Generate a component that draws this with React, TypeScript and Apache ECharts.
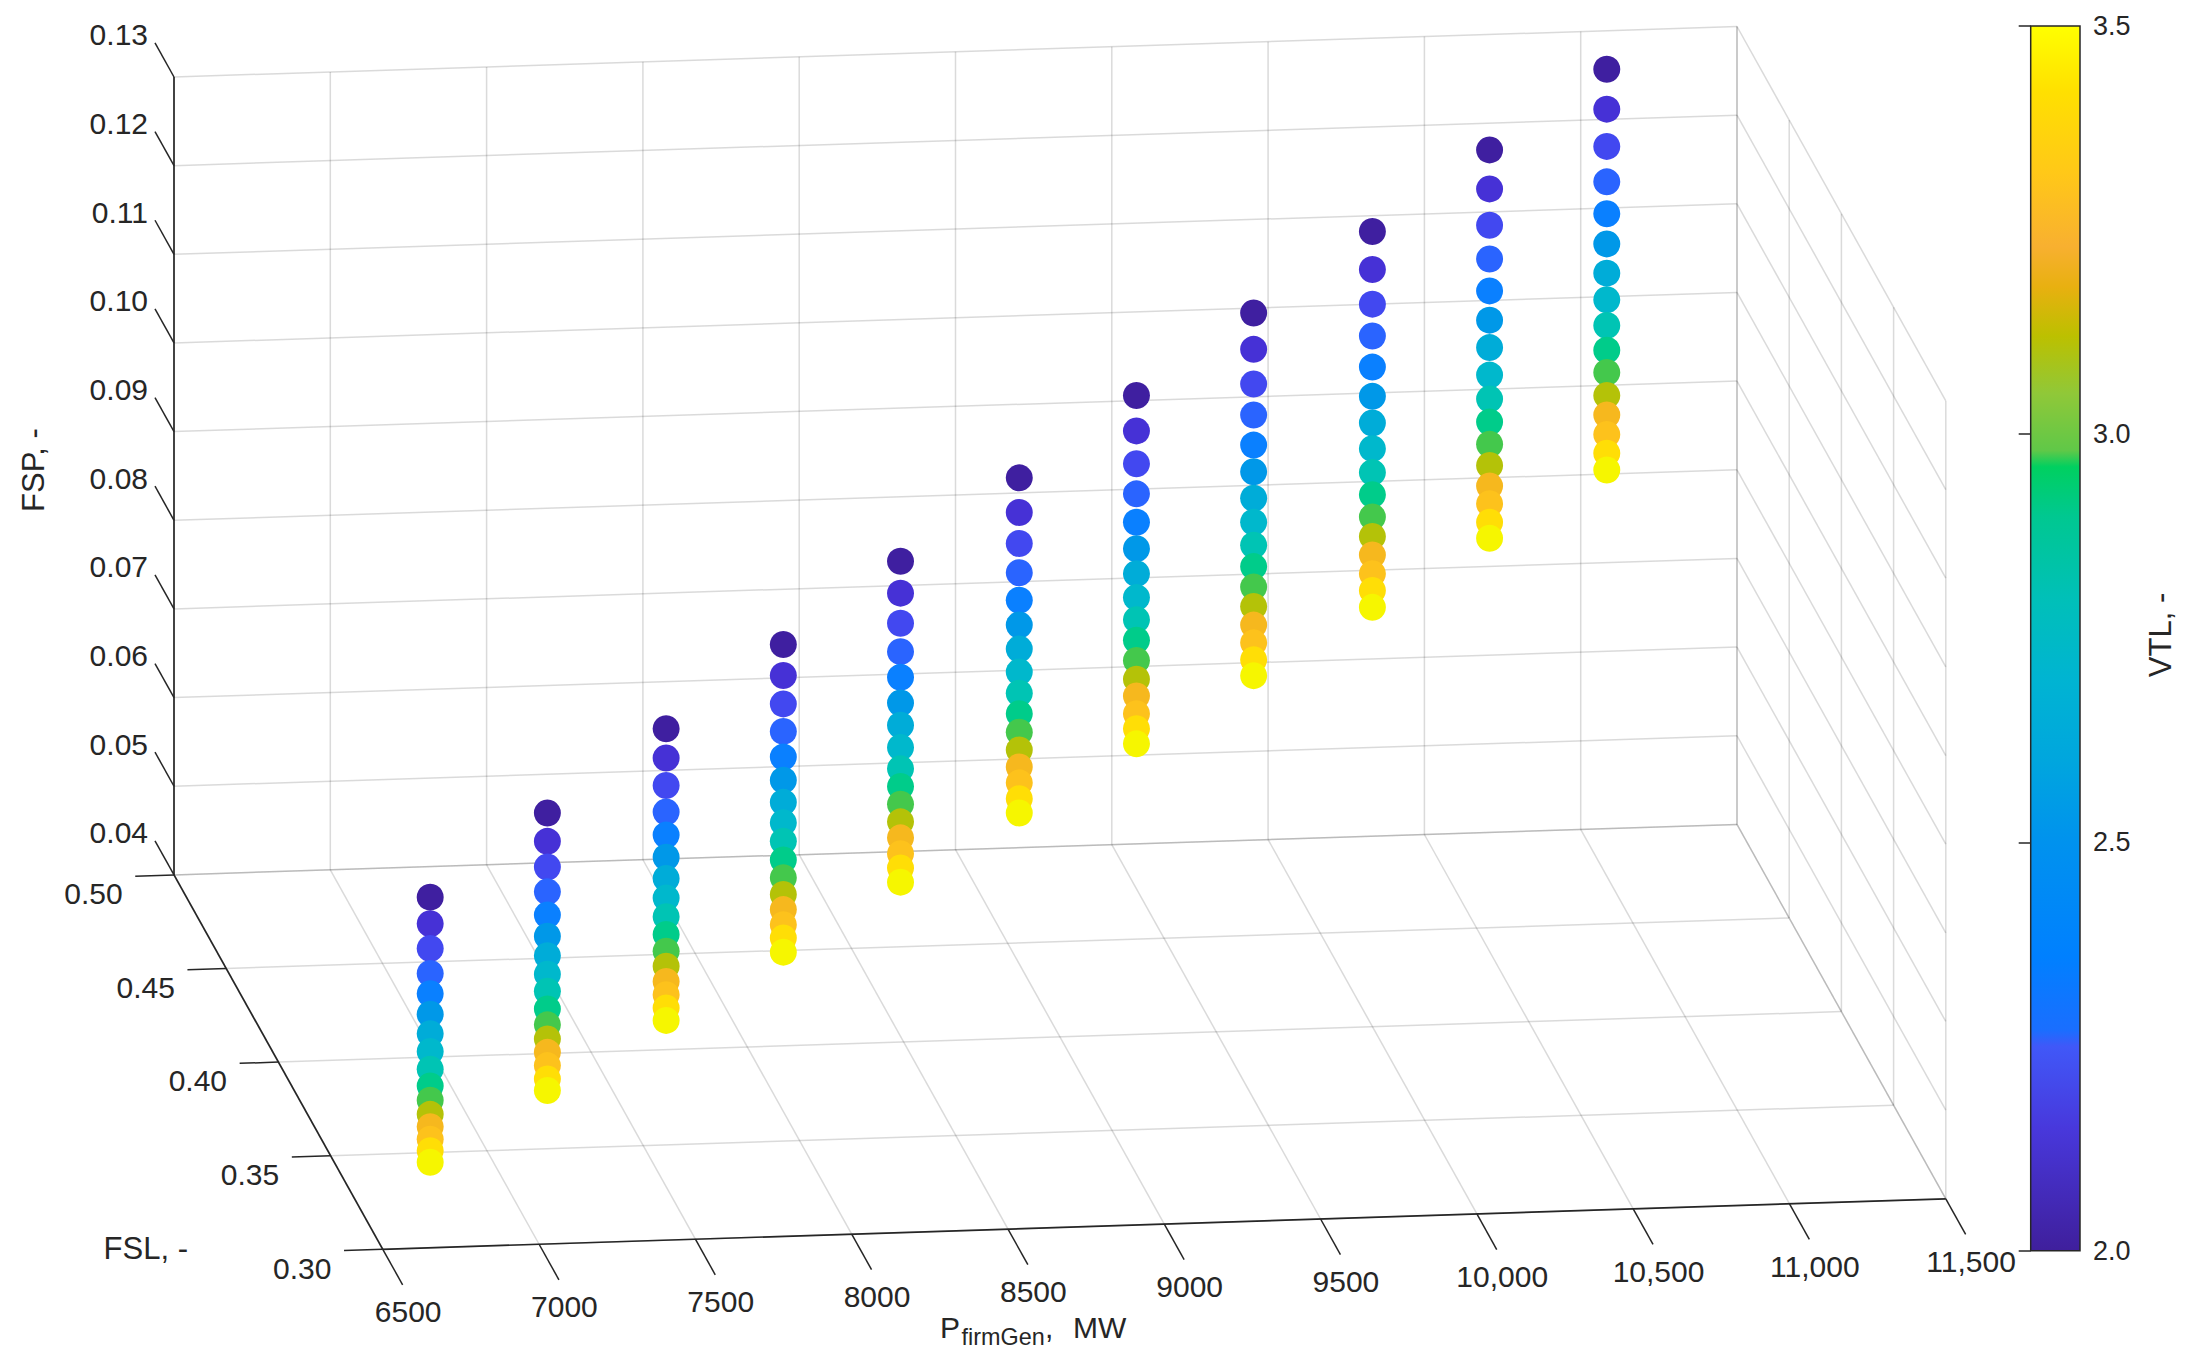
import React, { useEffect, useRef } from "react";
import * as echarts from "echarts";

// ---------------- data ----------------
const P_FIRM_GEN = [6685, 7120, 7560, 7995, 8430, 8870, 9305, 9740, 10180, 10615, 11050];
const FSL_VALUES = [0.31, 0.328, 0.346, 0.364, 0.382, 0.4, 0.418, 0.436, 0.454, 0.472, 0.49];
const VTL_VALUES = [2.0, 2.1, 2.2, 2.3, 2.4, 2.5, 2.6, 2.7, 2.8, 2.9, 3.0, 3.1, 3.2, 3.3, 3.4, 3.5];

const FSP_C1 = [0.0774, 0.0744, 0.0716, 0.0688, 0.0665, 0.0642, 0.062, 0.06, 0.058, 0.0561, 0.0545, 0.0529, 0.0515, 0.0501, 0.0488, 0.0475];
const FSP_C2 = [0.0826, 0.0794, 0.0765, 0.0737, 0.0711, 0.0687, 0.0665, 0.0644, 0.0625, 0.0605, 0.0587, 0.0571, 0.0556, 0.0541, 0.0526, 0.0513];
const FSP_C3 = [0.0878, 0.0845, 0.0814, 0.0784, 0.0758, 0.0733, 0.0709, 0.0687, 0.0666, 0.0646, 0.0627, 0.061, 0.0593, 0.0578, 0.0563, 0.0549];
const FSP_C4 = [0.093, 0.0895, 0.0863, 0.0832, 0.0803, 0.0777, 0.0752, 0.0729, 0.0708, 0.0687, 0.0667, 0.0648, 0.0631, 0.0614, 0.0599, 0.0583];
const FSP_C5 = [0.0981, 0.0945, 0.0911, 0.0879, 0.085, 0.0821, 0.0796, 0.0771, 0.0747, 0.0727, 0.0707, 0.0687, 0.0669, 0.0651, 0.0635, 0.0619];
const FSP_C6 = [0.1032, 0.0993, 0.0958, 0.0925, 0.0894, 0.0866, 0.0839, 0.0813, 0.0789, 0.0766, 0.0745, 0.0725, 0.0706, 0.0688, 0.067, 0.0654];
const FSP_C7 = [0.1082, 0.1042, 0.1005, 0.0971, 0.0939, 0.0909, 0.0881, 0.0854, 0.0829, 0.0806, 0.0783, 0.0762, 0.0743, 0.0723, 0.0706, 0.0689];
const FSP_C8 = [0.1132, 0.1091, 0.1052, 0.1017, 0.0983, 0.0953, 0.0923, 0.0896, 0.087, 0.0846, 0.0823, 0.0801, 0.078, 0.076, 0.0741, 0.0723];
const FSP_C9 = [0.1181, 0.1138, 0.1099, 0.1063, 0.1028, 0.0995, 0.0965, 0.0936, 0.0909, 0.0884, 0.0859, 0.0837, 0.0816, 0.0795, 0.0776, 0.0757];
const FSP_C10 = [0.123, 0.1186, 0.1145, 0.1107, 0.1071, 0.1038, 0.1007, 0.0976, 0.0949, 0.0923, 0.0898, 0.0874, 0.0851, 0.0831, 0.081, 0.0792];
const FSP_C11 = [0.1278, 0.1233, 0.1191, 0.1151, 0.1115, 0.1081, 0.1048, 0.1018, 0.0989, 0.0961, 0.0936, 0.091, 0.0888, 0.0866, 0.0845, 0.0826];
const FSP_COLUMNS = [FSP_C1, FSP_C2, FSP_C3, FSP_C4, FSP_C5, FSP_C6, FSP_C7, FSP_C8, FSP_C9, FSP_C10, FSP_C11];

const P_TICKS = [6500, 7000, 7500, 8000, 8500, 9000, 9500, 10000, 10500, 11000, 11500];
const P_TICK_LABELS = ["6500", "7000", "7500", "8000", "8500", "9000", "9500", "10,000", "10,500", "11,000", "11,500"];
const FSL_TICKS = [0.3, 0.35, 0.4, 0.45, 0.5];
const FSL_TICK_LABELS = ["0.30", "0.35", "0.40", "0.45", "0.50"];
const FSP_TICKS = [0.04, 0.05, 0.06, 0.07, 0.08, 0.09, 0.1, 0.11, 0.12, 0.13];
const FSP_TICK_LABELS = ["0.04", "0.05", "0.06", "0.07", "0.08", "0.09", "0.10", "0.11", "0.12", "0.13"];
const VTL_RANGE = [2.0, 3.5];

// colormap (one colour per VTL level)
const VTL_COLORS = [
  "#3f1fa0", "#4631d6", "#4248f0", "#2a64ff", "#0a80ff", "#0098e8", "#00acd8", "#00b8cc",
  "#00c4b4", "#00cc8a", "#44c84c", "#b4c208", "#f6b81e", "#fdc21c", "#ffde06", "#f6f600",
];
// colour bar gradient as seen in the reference (VTL value, colour)
const CBAR_VALUES = [2.0, 2.15, 2.25, 2.27, 2.36, 2.5, 2.6, 2.7, 2.8, 2.9, 2.96, 2.98, 3.05, 3.12, 3.18, 3.23, 3.32, 3.42, 3.5];
const CBAR_COLORS = [
  "#3f1f9c", "#4838dc", "#4058f8", "#1a6eff", "#0080ff", "#0092ee", "#00a6de", "#00b4d2", "#00c0b8",
  "#00c890", "#00d060", "#60c848", "#90c838", "#bcc000", "#e8b010", "#f8b030", "#ffc818", "#ffe000", "#ffff00",
];

// ---------------- layout ----------------
const W = 2190;
const H = 1361;
const FONT = "'Liberation Sans', Arial, Helvetica, sans-serif";
const TXT = "#262626";
const GRID_STROKE = "rgba(38,38,38,0.17)";
const P_LIM = [6500, 11500];
const FSL_LIM = [0.3, 0.5];
const FSP_LIM = [0.04, 0.13];
// projected box: origin = (P min, FSL min, FSP min), and screen vectors spanning each axis range
const BOX = { ox: 382.8, oy: 1249.3, px: 1563, py: -50.5, lx: -208.8, ly: -374.4, fy: -797.9 };

function proj(p: number, l: number, f: number): number[] {
  const a = (p - P_LIM[0]) / (P_LIM[1] - P_LIM[0]);
  const b = (l - FSL_LIM[0]) / (FSL_LIM[1] - FSL_LIM[0]);
  const c = (f - FSP_LIM[0]) / (FSP_LIM[1] - FSP_LIM[0]);
  return [BOX.ox + a * BOX.px + b * BOX.lx, BOX.oy + a * BOX.py + b * BOX.ly + c * BOX.fy];
}

const DOTS: number[][] = [];
P_FIRM_GEN.forEach((p, i) => {
  VTL_VALUES.forEach((v, j) => {
    DOTS.push([p, FSL_VALUES[i], FSP_COLUMNS[i][j], v]);
  });
});

function txt(x: number, y: number, text: string, size: number, align: string, extra: any = {}) {
  return {
    type: "text",
    x,
    y,
    silent: true,
    ...extra,
    style: {
      text,
      fill: TXT,
      fontSize: size,
      fontFamily: FONT,
      align,
      verticalAlign: "middle",
      textAlign: align,
      textVerticalAlign: "middle",
    },
  };
}

function renderFrame(_params: any, api: any) {
  const pt = (p: number, l: number, f: number) => api.coord(proj(p, l, f));
  const line = (a: number[], b: number[], stroke: string, w: number) => ({
    type: "line",
    silent: true,
    shape: { x1: a[0], y1: a[1], x2: b[0], y2: b[1] },
    style: { stroke, lineWidth: w },
  });
  const ch: any[] = [];
  const [p0, p1] = P_LIM;
  const [l0, l1] = FSL_LIM;
  const [f0, f1] = FSP_LIM;
  // back wall (FSL max)
  P_TICKS.forEach((p) => ch.push(line(pt(p, l1, f0), pt(p, l1, f1), GRID_STROKE, 1.5)));
  FSP_TICKS.forEach((f) => ch.push(line(pt(p0, l1, f), pt(p1, l1, f), GRID_STROKE, 1.5)));
  // floor (FSP min)
  P_TICKS.forEach((p) => ch.push(line(pt(p, l0, f0), pt(p, l1, f0), GRID_STROKE, 1.5)));
  FSL_TICKS.forEach((l) => ch.push(line(pt(p0, l, f0), pt(p1, l, f0), GRID_STROKE, 1.5)));
  // right wall (P max)
  FSL_TICKS.forEach((l) => ch.push(line(pt(p1, l, f0), pt(p1, l, f1), GRID_STROKE, 1.5)));
  FSP_TICKS.forEach((f) => ch.push(line(pt(p1, l0, f), pt(p1, l1, f), GRID_STROKE, 1.5)));

  // axis lines
  ch.push(line(pt(p0, l1, f0), pt(p0, l1, f1), TXT, 1.7));
  ch.push(line(pt(p0, l0, f0), pt(p0, l1, f0), TXT, 1.7));
  ch.push(line(pt(p0, l0, f0), pt(p1, l0, f0), TXT, 1.7));

  // P ticks + labels
  P_TICKS.forEach((p, i) => {
    const a = pt(p, l0, f0);
    const b = pt(p, l0 - 0.019, f0);
    ch.push(line(a, b, TXT, 1.5));
    ch.push(txt(b[0] + 5.5, b[1] + 27, P_TICK_LABELS[i], 30, "center"));
  });
  // FSL ticks + labels
  FSL_TICKS.forEach((l, i) => {
    const a = pt(p0, l, f0);
    const b = pt(p0 - 124, l, f0);
    ch.push(line(a, b, TXT, 1.5));
    ch.push(txt(b[0] - 12.6, b[1] + 17.5, FSL_TICK_LABELS[i], 30, "right"));
  });
  // FSP ticks + labels
  FSP_TICKS.forEach((f, i) => {
    const a = pt(p0, l1, f);
    const b = pt(p0, l1 + 0.0182, f);
    ch.push(line(a, b, TXT, 1.5));
    ch.push(txt(b[0] - 7, b[1] - 8, FSP_TICK_LABELS[i], 30, "right"));
  });

  // axis titles
  ch.push(txt(103.6, 1248, "FSL, -", 31, "left"));
  ch.push(txt(33, 470, "FSP, -", 31, "center", { rotation: Math.PI / 2 }));
  ch.push(txt(940, 1327.5, "P", 30, "left"));
  ch.push(txt(961.5, 1337, "firmGen", 23.4, "left"));
  ch.push(txt(1045, 1327.5, ",", 30, "left"));
  ch.push(txt(1073, 1327.5, "MW", 30, "left"));

  return { type: "group", children: ch };
}

function renderDot(_params: any, api: any) {
  const c = api.coord(proj(api.value(0), api.value(1), api.value(2)));
  return {
    type: "circle",
    shape: { cx: c[0], cy: c[1], r: 13.5 },
    style: { fill: api.visual("color") },
  };
}

function renderColorbar(_params: any, api: any) {
  const a = api.coord([0, VTL_RANGE[1]]);
  const b = api.coord([1, VTL_RANGE[0]]);
  const span = VTL_RANGE[1] - VTL_RANGE[0];
  const stops = CBAR_VALUES.map((v, i) => ({ offset: (VTL_RANGE[1] - v) / span, color: CBAR_COLORS[i] }))
    .sort((s1, s2) => s1.offset - s2.offset);
  return {
    type: "rect",
    shape: { x: a[0], y: a[1], width: b[0] - a[0], height: b[1] - a[1] },
    style: {
      fill: new echarts.graphic.LinearGradient(0, 0, 0, 1, stops),
      stroke: TXT,
      lineWidth: 1.5,
    },
  };
}

export default function App() {
  const ref = useRef<HTMLDivElement>(null);
  useEffect(() => {
    if (!ref.current) return;
    const chart = echarts.init(ref.current, undefined, { renderer: "svg" });
    const option: any = {
      animation: false,
      backgroundColor: "#ffffff",
      grid: [
        { left: 0, top: 0, width: W, height: H },
        { left: 2030.7, top: 26, width: 49.3, height: 1224.7 },
      ],
      xAxis: [
        { type: "value", gridIndex: 0, min: 0, max: W, show: false },
        { type: "value", gridIndex: 1, min: 0, max: 1, show: false },
      ],
      yAxis: [
        { type: "value", gridIndex: 0, min: 0, max: H, inverse: true, show: false },
        {
          type: "value",
          gridIndex: 1,
          min: VTL_RANGE[0],
          max: VTL_RANGE[1],
          interval: 0.5,
          position: "right",
          axisLine: { show: false },
          splitLine: { show: false },
          axisTick: { show: true, inside: true, length: 12, lineStyle: { color: TXT, width: 1.5 } },
          axisLabel: {
            show: true,
            margin: 13,
            fontSize: 27,
            color: TXT,
            fontFamily: FONT,
            formatter: (v: number) => v.toFixed(1),
          },
        },
      ],
      visualMap: {
        type: "continuous",
        show: false,
        min: VTL_RANGE[0],
        max: VTL_RANGE[1],
        dimension: 3,
        seriesIndex: 1,
        inRange: { color: VTL_COLORS },
      },
      graphic: [
        {
          type: "text",
          x: 2160,
          y: 635,
          rotation: Math.PI / 2,
          style: {
            text: "VTL, -",
            fill: TXT,
            fontSize: 31,
            fontFamily: FONT,
            align: "center",
            verticalAlign: "middle",
          },
        },
      ],
      series: [
        {
          type: "custom",
          name: "frame",
          xAxisIndex: 0,
          yAxisIndex: 0,
          data: [[0, 0]],
          renderItem: renderFrame,
          silent: true,
          z: 1,
        },
        {
          type: "custom",
          name: "points",
          xAxisIndex: 0,
          yAxisIndex: 0,
          dimensions: ["P", "FSL", "FSP", "VTL"],
          encode: { x: 0, y: 1 },
          data: DOTS,
          renderItem: renderDot,
          z: 3,
        },
        {
          type: "custom",
          name: "colorbar",
          xAxisIndex: 1,
          yAxisIndex: 1,
          data: [[0, VTL_RANGE[0]]],
          renderItem: renderColorbar,
          silent: true,
          z: 2,
        },
      ],
    };
    chart.setOption(option);
    return () => chart.dispose();
  }, []);
  return (
    <div
      ref={ref}
      style={{ position: "fixed", left: 0, top: 0, width: W + "px", height: H + "px", background: "#fff" }}
    />
  );
}
